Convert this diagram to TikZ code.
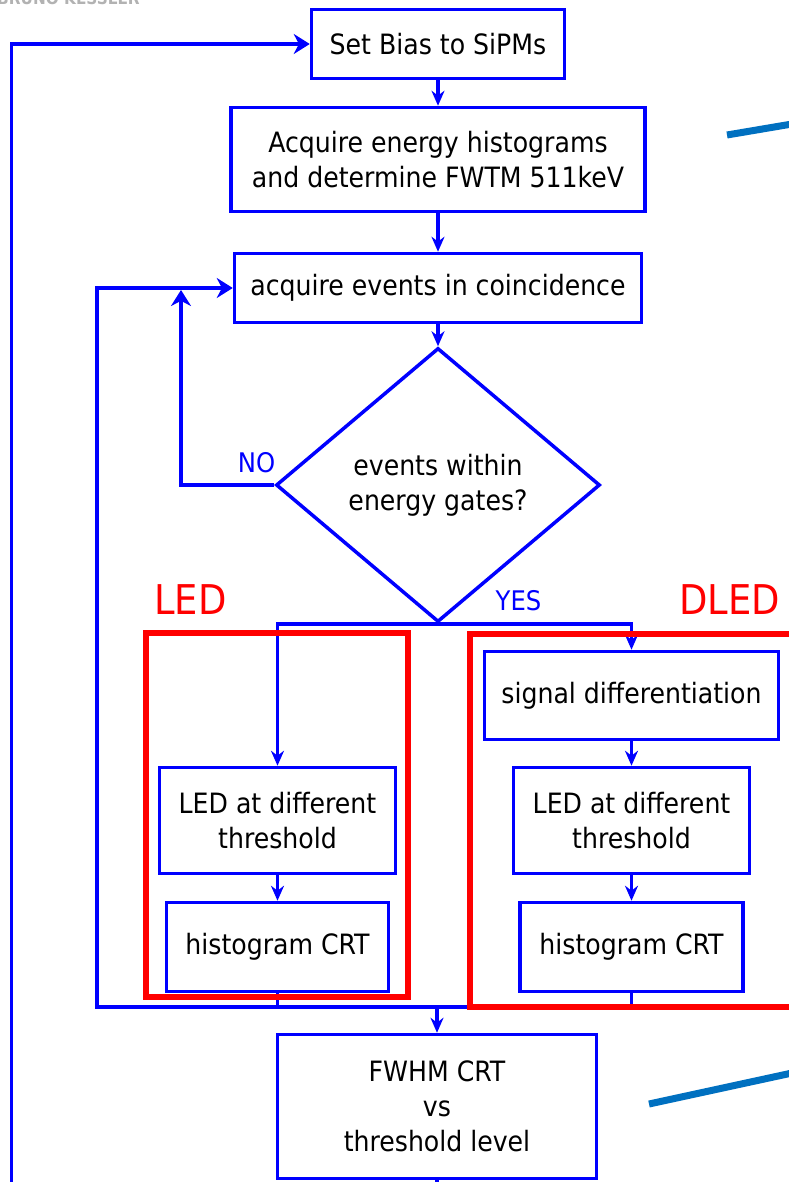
\documentclass[tikz,border=0pt]{standalone}
\usepackage{fontspec}
\setmainfont{DejaVu Sans Condensed}
\usetikzlibrary{shapes.geometric,arrows.meta}

\definecolor{slideblue}{HTML}{0070C0}

\tikzset{
  blk/.style={draw=blue,line width=3.5pt,rectangle,align=center,inner sep=0pt,font=\fontsize{28}{35}\selectfont},
  flow/.style={blue,line width=3.5pt},
  arr/.style={flow,-{Stealth[length=15pt,width=13pt]}},
  bigarr/.style={flow,-{Stealth[length=16pt,width=20pt]}},
  redframe/.style={draw=red,line width=6pt,rectangle},
  redlbl/.style={text=red,anchor=base,inner sep=0pt,font=\fontsize{41}{41}\selectfont},
  bluelbl/.style={text=blue,anchor=base,inner sep=0pt,font=\fontsize{27}{27}\selectfont}
}

\begin{document}
\begin{tikzpicture}[x=1pt,y=-1pt]
\useasboundingbox (0,0) rectangle (788,1182);
\draw node [anchor=base west,inner sep=0pt,text=gray!60,font=\fontsize{17}{17}\selectfont\bfseries] (brand) at (-3,5) {BRUNO KESSLER};

\draw node [blk,minimum width=253,minimum height=69] (bias) at (438,44) {Set Bias to SiPMs};
\draw node [blk,minimum width=414,minimum height=104] (energy) at (438,159.5) {Acquire energy histograms\\and determine FWTM 511keV};
\draw node [blk,minimum width=407,minimum height=69] (coinc) at (438,288) {acquire events in coincidence};
\draw node [blk,diamond,minimum width=324,minimum height=274] (gate) at (438,485) {events within\\energy gates?};

\draw node [blk,minimum width=294,minimum height=88] (diff) at (631.5,695.5) {signal differentiation};
\draw node [blk,minimum width=236,minimum height=106] (ledL) at (277.5,820.5) {LED at different\\threshold};
\draw node [blk,minimum width=236,minimum height=106] (ledR) at (631.5,820.5) {LED at different\\threshold};
\draw node [blk,minimum width=222,minimum height=89] (histL) at (277.5,947) {histogram CRT};
\draw node [blk,minimum width=223,minimum height=89] (histR) at (631.5,947) {histogram CRT};
\draw node [blk,minimum width=319,minimum height=144] (fwhm) at (437,1106.5) {FWHM CRT\\vs\\threshold level};

\coordinate (noTop) at (181,290);
\coordinate (join) at (437,1007);
\coordinate (back) at (97,1007);
\coordinate (outer) at (11.5,1220);

\draw[arr] (bias.south) -- (energy.north);
\draw[arr] (energy.south) -- (coinc.north);
\draw[arr] (coinc.south) -- (gate.north);
\draw[bigarr] (gate.west) -| (noTop);
\draw[arr] (gate.south) -| (ledL.north);
\draw[arr] (gate.south) -| (diff.north);
\draw[arr] (diff.south) -- (ledR.north);
\draw[arr] (ledL.south) -- (histL.north);
\draw[arr] (ledR.south) -- (histR.north);
\draw[flow] (histL.south) -- (histL.south |- join);
\draw[bigarr] (histR.south) |- (back) |- (coinc.west);
\draw[arr] (join) -- (fwhm.north);
\draw[bigarr] (fwhm.south) |- (outer) |- (bias.west);

\draw node [bluelbl] (no) at (256.5,472) {NO};
\draw node [bluelbl] (yes) at (518.5,610) {YES};

\draw node [redframe,minimum width=262,minimum height=364.5] (ledframe) at (277,814.75) {};
\draw node [redframe,minimum width=330.5,minimum height=373.5] (dledframe) at (634.75,820.25) {};
\draw node [redlbl] (ledtag) at (190.5,614) {LED};
\draw node [redlbl] (dledtag) at (729.5,614) {DLED};

\draw[slideblue,line width=7pt] (727,135) -- (792,124);
\draw[slideblue,line width=7pt] (649,1104) -- (792,1073);
\end{tikzpicture}
\end{document}
